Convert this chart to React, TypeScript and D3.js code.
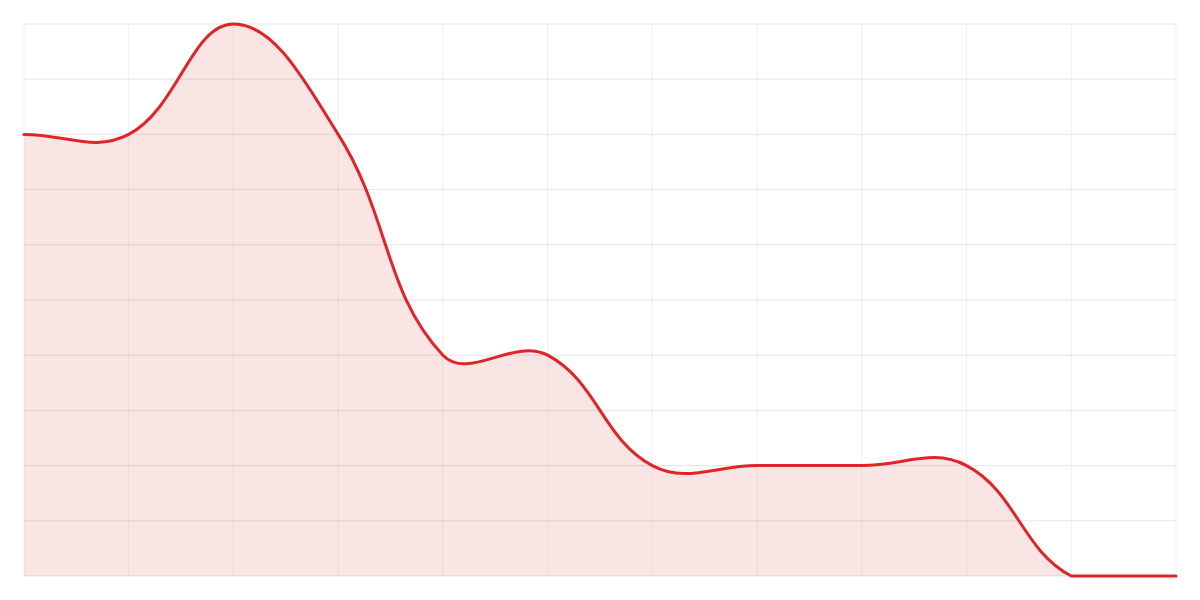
import React, { useEffect, useRef } from "react";
import * as d3 from "d3";

const categories = ["1", "2", "3", "4", "5", "6", "7", "8", "9", "10", "11", "12"];
const values = [8, 8, 10, 8, 4, 4, 2, 2, 2, 2, 0, 0];
const yTicks = [0, 1, 2, 3, 4, 5, 6, 7, 8, 9, 10];

const W = 1200;
const H = 600;
const M = { top: 24, right: 24, bottom: 24, left: 24 };
const TENSION = 0.4;

export default function App() {
  const ref = useRef<SVGSVGElement | null>(null);

  useEffect(() => {
    const svg = d3.select(ref.current);
    svg.selectAll("*").remove();

    const x = d3
      .scalePoint<string>()
      .domain(categories)
      .range([M.left, W - M.right]);
    const y = d3.scaleLinear().domain([0, 10]).range([H - M.bottom, M.top]);

    const left = M.left, right = W - M.right, top = M.top, bottom = H - M.bottom;

    // grid
    const g = svg.append("g");
    g.selectAll("line.v")
      .data(categories)
      .enter()
      .append("line")
      .attr("x1", (d) => x(d)!)
      .attr("x2", (d) => x(d)!)
      .attr("y1", top)
      .attr("y2", bottom)
      .attr("stroke", "rgba(0,0,0,0.06)")
      .attr("stroke-width", 1);
    g.selectAll("line.h")
      .data(yTicks)
      .enter()
      .append("line")
      .attr("x1", left)
      .attr("x2", right)
      .attr("y1", (d) => y(d))
      .attr("y2", (d) => y(d))
      .attr("stroke", "rgba(0,0,0,0.1)")
      .attr("stroke-width", 1);

    // Chart.js-style spline control points
    const pts = values.map((v, i) => ({ x: x(categories[i])!, y: y(v) }));
    const clampX = (v: number) => Math.max(left, Math.min(right, v));
    const clampY = (v: number) => Math.max(top, Math.min(bottom, v));
    const cps = pts.map((p, i) => {
      const prev = pts[i - 1] || p;
      const next = pts[i + 1] || p;
      const d01 = Math.hypot(p.x - prev.x, p.y - prev.y);
      const d12 = Math.hypot(next.x - p.x, next.y - p.y);
      let s01 = d01 / (d01 + d12);
      let s12 = d12 / (d01 + d12);
      if (isNaN(s01)) s01 = 0;
      if (isNaN(s12)) s12 = 0;
      const fa = TENSION * s01;
      const fb = TENSION * s12;
      return {
        px: clampX(p.x - fa * (next.x - prev.x)),
        py: clampY(p.y - fa * (next.y - prev.y)),
        nx: clampX(p.x + fb * (next.x - prev.x)),
        ny: clampY(p.y + fb * (next.y - prev.y)),
      };
    });

    const path = d3.path();
    path.moveTo(pts[0].x, pts[0].y);
    for (let i = 1; i < pts.length; i++) {
      path.bezierCurveTo(cps[i - 1].nx, cps[i - 1].ny, cps[i].px, cps[i].py, pts[i].x, pts[i].y);
    }
    const lineD = path.toString();
    const areaD =
      lineD +
      `L${pts[pts.length - 1].x},${y(0)}L${pts[0].x},${y(0)}Z`;

    svg
      .append("path")
      .attr("d", areaD)
      .attr("fill", "rgba(214,40,40,0.12)")
      .attr("stroke", "none");

    svg
      .append("path")
      .attr("d", lineD)
      .attr("fill", "none")
      .attr("stroke", "#e0242a")
      .attr("stroke-width", 3)
      .attr("stroke-linejoin", "round")
      .attr("stroke-linecap", "round");
  }, []);

  return (
    <svg
      ref={ref}
      width={W}
      height={H}
      style={{ position: "absolute", left: 0, top: 0, background: "#fff" }}
    />
  );
}
